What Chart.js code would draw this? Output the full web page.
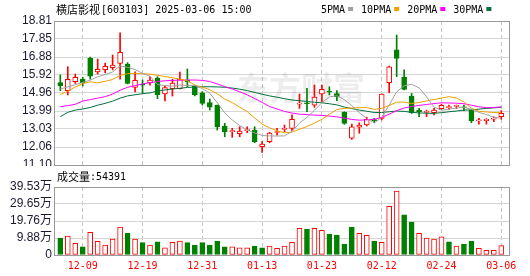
<!DOCTYPE html>
<html>
<head>
<meta charset="utf-8">
<script src="https://cdn.jsdelivr.net/npm/chart.js@4.4.1/dist/chart.umd.min.js"></script>
<style>
    html, body { margin: 0; padding: 0; background: #fff; }
    #wrap { position: relative; width: 530px; height: 276px; overflow: hidden; }
    #priceBox { position: absolute; left: 0; top: 0; width: 530px; height: 166px; }
    #volBox { position: absolute; left: 0; top: 166px; width: 530px; height: 110px; }
</style>
</head>
<body>
<div id="wrap">
    <div id="priceBox"><canvas id="priceCanvas"></canvas></div>
    <div id="volBox"><canvas id="volCanvas"></canvas></div>
</div>
<script>
const stockName = "横店影视";
const stockCode = "603103";
const quoteTime = "15:00";

const dates = [
    "2024-12-04", "2024-12-05", "2024-12-06", "2024-12-09", "2024-12-10", "2024-12-11", "2024-12-12", "2024-12-13",
    "2024-12-16", "2024-12-17", "2024-12-18", "2024-12-19", "2024-12-20", "2024-12-23", "2024-12-24", "2024-12-25",
    "2024-12-26", "2024-12-27", "2024-12-30", "2024-12-31", "2025-01-02", "2025-01-03", "2025-01-06", "2025-01-07",
    "2025-01-08", "2025-01-09", "2025-01-10", "2025-01-13", "2025-01-14", "2025-01-15", "2025-01-16", "2025-01-17",
    "2025-01-20", "2025-01-21", "2025-01-22", "2025-01-23", "2025-01-24", "2025-01-27", "2025-02-05", "2025-02-06",
    "2025-02-07", "2025-02-10", "2025-02-11", "2025-02-12", "2025-02-13", "2025-02-14", "2025-02-17", "2025-02-18",
    "2025-02-19", "2025-02-20", "2025-02-21", "2025-02-24", "2025-02-25", "2025-02-26", "2025-02-27", "2025-02-28",
    "2025-03-03", "2025-03-04", "2025-03-05", "2025-03-06",
];

const opens = [
    15.51, 15.08, 15.56, 15.69, 16.81, 16.08, 16.20, 16.31, 16.54, 16.51,
    15.26, 15.39, 15.51, 15.76, 14.90, 15.19, 15.19, 15.65, 15.33, 14.97,
    14.44, 14.31, 13.19, 12.89, 12.78, 12.93, 12.97, 12.08, 12.35, 12.84,
    13.01, 13.06, 14.36, 14.41, 14.31, 14.90, 15.03, 14.93, 13.92, 12.53,
    13.12, 13.24, 13.50, 13.60, 15.51, 17.26, 15.80, 14.79, 14.04, 13.92,
    13.90, 14.11, 14.17, 14.24, 14.19, 14.04, 13.46, 13.47, 13.56, 13.69,
];
const highs = [
    15.92, 16.36, 15.97, 15.80, 16.88, 16.77, 16.56, 16.99, 18.18, 16.58,
    16.09, 15.65, 15.83, 15.83, 15.35, 15.69, 16.08, 16.24, 15.36, 15.03,
    14.63, 14.31, 13.33, 13.06, 13.15, 13.15, 13.15, 12.35, 12.85, 13.06,
    13.24, 13.78, 14.90, 15.21, 15.38, 15.38, 15.29, 15.08, 13.95, 13.29,
    13.36, 13.66, 13.60, 14.90, 16.40, 18.06, 16.19, 14.93, 14.13, 14.04,
    14.13, 14.36, 14.31, 14.31, 14.31, 14.08, 13.60, 13.58, 13.68, 14.01,
];
const lows = [
    15.08, 14.85, 15.47, 15.33, 15.70, 15.97, 16.04, 16.19, 15.70, 15.44,
    15.01, 14.97, 15.38, 14.65, 14.53, 14.79, 15.17, 15.29, 14.80, 14.32,
    14.04, 12.97, 12.61, 12.58, 12.61, 12.83, 12.29, 11.78, 12.29, 12.70,
    12.88, 12.94, 14.13, 13.95, 14.19, 14.49, 14.85, 14.54, 13.28, 12.47,
    12.80, 13.19, 13.36, 13.51, 14.97, 15.83, 15.12, 13.86, 13.69, 13.69,
    13.78, 14.08, 14.08, 14.13, 14.01, 13.36, 13.29, 13.29, 13.42, 13.55,
];
const closes = [
    15.35, 15.69, 15.80, 15.51, 15.86, 16.22, 16.38, 16.45, 17.13, 15.47,
    15.63, 15.37, 15.65, 14.86, 15.24, 15.49, 15.70, 15.55, 14.85, 14.40,
    14.19, 13.15, 12.88, 12.90, 12.92, 13.00, 12.35, 12.22, 12.81, 12.88,
    13.06, 13.55, 14.40, 14.38, 14.74, 15.15, 15.01, 14.75, 13.33, 13.15,
    13.24, 13.55, 13.48, 14.90, 16.36, 16.81, 15.15, 13.90, 13.95, 13.96,
    14.04, 14.29, 14.22, 14.26, 14.16, 13.47, 13.51, 13.56, 13.60, 13.86,
];

const ma5 = [
    15.17, 15.28, 15.40, 15.52, 15.64, 15.82, 15.95, 16.08, 16.41, 16.33,
    16.21, 16.01, 15.85, 15.40, 15.35, 15.32, 15.38, 15.36, 15.36, 15.19,
    14.94, 14.43, 13.89, 13.51, 13.21, 12.98, 12.82, 12.68, 12.66, 12.65,
    12.66, 12.90, 13.34, 13.65, 14.03, 14.44, 14.74, 14.81, 14.60, 14.28,
    13.90, 13.60, 13.35, 13.66, 14.31, 15.02, 15.34, 15.42, 15.23, 14.75,
    14.20, 14.03, 14.09, 14.15, 14.19, 14.08, 13.92, 13.80, 13.66, 13.60,
];
const ma10 = [
    14.88, 15.05, 15.28, 15.45, 15.55, 15.50, 15.58, 15.68, 15.90, 15.99,
    16.01, 15.98, 15.97, 15.90, 15.84, 15.77, 15.70, 15.61, 15.38, 15.27,
    15.13, 14.91, 14.63, 14.44, 14.20, 13.96, 13.62, 13.29, 13.09, 12.93,
    12.82, 12.86, 13.01, 13.16, 13.34, 13.55, 13.82, 14.07, 14.13, 14.15,
    14.17, 14.17, 14.08, 14.13, 14.29, 14.46, 14.47, 14.39, 14.45, 14.53,
    14.61, 14.68, 14.76, 14.69, 14.47, 14.14, 13.98, 13.94, 13.91, 13.90,
];
const ma20 = [
    14.22, 14.28, 14.35, 14.52, 14.60, 14.68, 14.76, 14.90, 15.10, 15.26,
    15.35, 15.44, 15.51, 15.57, 15.61, 15.63, 15.64, 15.65, 15.65, 15.63,
    15.57, 15.44, 15.30, 15.17, 15.02, 14.86, 14.66, 14.45, 14.23, 14.10,
    13.97, 13.88, 13.82, 13.80, 13.77, 13.76, 13.72, 13.68, 13.61, 13.54,
    13.50, 13.52, 13.55, 13.64, 13.82, 14.01, 14.15, 14.23, 14.29, 14.34,
    14.39, 14.43, 14.42, 14.41, 14.38, 14.30, 14.22, 14.17, 14.18, 14.21,
];
const ma30 = [
    13.69, 13.92, 14.04, 14.10, 14.18, 14.30, 14.40, 14.52, 14.68, 14.80,
    14.86, 14.92, 14.96, 15.06, 15.12, 15.17, 15.21, 15.25, 15.28, 15.29,
    15.29, 15.28, 15.26, 15.22, 15.16, 15.08, 14.99, 14.89, 14.80, 14.73,
    14.65, 14.58, 14.54, 14.50, 14.46, 14.43, 14.38, 14.32, 14.20, 14.12,
    14.04, 13.98, 13.91, 13.91, 13.95, 13.99, 13.97, 13.92, 13.89, 13.87,
    13.87, 13.90, 13.95, 13.99, 14.04, 14.05, 14.09, 14.13, 14.16, 14.19,
];

// volume in 万手
const volumes = [
    9.88, 11.0, 6.8, 4.8, 13.2, 7.9, 5.8, 9.3, 16.3, 12.8,
    9.3, 7.2, 5.8, 7.6, 4.1, 7.4, 8.1, 7.2, 5.8, 7.2,
    5.8, 8.1, 4.7, 4.7, 4.1, 4.1, 5.2, 4.1, 5.2, 3.9,
    5.2, 7.4, 15.5, 15.1, 15.5, 14.3, 12.2, 11.6, 6.4, 16.3,
    12.6, 11.4, 8.1, 7.4, 28.3, 37.2, 23.3, 19.2, 12.6, 9.9,
    9.3, 10.5, 7.6, 5.2, 6.4, 8.1, 3.9, 2.7, 2.7, 5.4391,
];

const tickDates = ["2024-12-09", "2024-12-19", "2024-12-31", "2025-01-13", "2025-01-23", "2025-02-12", "2025-02-24", "2025-03-06"];
const priceTicks = [11.10, 12.06, 13.03, 13.99, 14.96, 15.92, 16.88, 17.85, 18.81];
const volTicks = [0, 9.88, 19.76, 29.65, 39.53];

const maNames = ["5PMA", "10PMA", "20PMA", "30PMA"];
const maSeries = [ma5, ma10, ma20, ma30];
const maColors = ["#a0a0a0", "#f0a000", "#ff00ff", "#00703c"];

const RED = "#ff0000";
const GREEN = "#008000";
const MONO = "'DejaVu Sans Mono', monospace";
const CJK = "'Noto Sans CJK SC', sans-serif";
const LABEL_FONT = "'Liberation Sans', 'Noto Sans CJK SC', sans-serif";
const X_MIN = -0.71;
const X_MAX = 60.03;

Chart.defaults.font.family = LABEL_FONT;

const candleUp = closes.map((c, i) => c >= opens[i]);
const volUp = closes.map((c, i) => c >= (i === 0 ? opens[0] : closes[i - 1]));
const tickIndex = tickDates.map((d) => dates.indexOf(d));

function zeroPad(s) {
    s.paddingLeft = s.paddingRight = s.paddingTop = s.paddingBottom = 0;
}

function xAxis(showLabels) {
    return {
        type: "linear",
        min: X_MIN,
        max: X_MAX,
        offset: false,
        afterBuildTicks: (s) => {
            s.ticks = tickIndex.map((v) => ({ value: v }));
        },
        afterFit: (s) => {
            zeroPad(s);
            s.height = showLabels ? 21 : 0;
        },
        ticks: {
            display: showLabels,
            autoSkip: false,
            maxRotation: 0,
            padding: 5,
            color: RED,
            font: { family: MONO, size: 10 },
            callback: (v) => (dates[v] || "").slice(5),
        },
        grid: { offset: false, drawTicks: false, color: "#c4c4c4" },
        border: { display: false, dash: [4, 3] },
    };
}

function yAxis(min, max, values, fmt) {
    return {
        type: "linear",
        min,
        max,
        afterBuildTicks: (s) => {
            s.ticks = values.map((v) => ({ value: v }));
        },
        afterFit: (s) => {
            zeroPad(s);
            s.width = 55;
        },
        ticks: { padding: 3, autoSkip: false, color: "#1a1a2e", font: { size: 12 }, callback: fmt },
        grid: { drawTicks: false, color: "#d6d6d6" },
        border: { display: false },
    };
}

function drawBox(chart) {
    const { ctx, chartArea: a } = chart;
    ctx.save();
    ctx.strokeStyle = "#999";
    ctx.lineWidth = 1;
    ctx.strokeRect(a.left - 0.5, a.top + 0.5, a.right - a.left + 1, a.bottom - a.top);
    ctx.restore();
}

const priceDecor = {
    id: "priceDecor",
    beforeDatasetsDraw(chart) {
        const { ctx, chartArea: a } = chart;
        ctx.save();
        ctx.font = "bold 32px " + CJK;
        ctx.fillStyle = "rgba(0, 0, 0, 0.07)";
        ctx.textAlign = "center";
        ctx.textBaseline = "middle";
        ctx.fillText("东方财富", a.left + 246, a.top + 67);
        ctx.restore();
    },
    afterDraw(chart) {
        drawBox(chart);
        const ctx = chart.ctx;
        ctx.save();
        ctx.textBaseline = "middle";
        ctx.fillStyle = "#000";
        ctx.font = "11px " + CJK;
        ctx.fillText(stockName, 56, 10);
        const x0 = 56 + ctx.measureText(stockName).width + 1;
        ctx.font = "10px " + MONO;
        ctx.fillText(`[${stockCode}] ${dates[dates.length - 1]} ${quoteTime}`, x0, 10);

        let x = 321;
        maNames.forEach((name, k) => {
            ctx.fillStyle = "#000";
            ctx.fillText(name, x, 10);
            x += ctx.measureText(name).width + 3;
            ctx.fillStyle = maColors[k];
            ctx.fillRect(x, 7, 5, 4);
            x += 5 + 8;
        });
        ctx.restore();
    },
};

const volDecor = {
    id: "volDecor",
    afterDraw(chart) {
        drawBox(chart);
        const ctx = chart.ctx;
        ctx.save();
        ctx.textBaseline = "middle";
        ctx.fillStyle = "#000";
        ctx.font = "11px " + CJK;
        ctx.fillText("成交量", 57, 11);
        const x0 = 57 + ctx.measureText("成交量").width;
        ctx.font = "10px " + MONO;
        ctx.fillText(":" + Math.round(volumes[volumes.length - 1] * 10000), x0, 11);
        ctx.restore();
    },
};

const lineSets = maSeries.map((series, k) => ({
    type: "line",
    label: maNames[k],
    data: series.map((v, i) => ({ x: i, y: v })),
    borderColor: maColors[k],
    borderWidth: 1,
    pointRadius: 0,
    tension: 0,
    order: 0,
}));

const bodySet = {
    type: "bar",
    label: "body",
    data: opens.map((o, i) => ({ x: i, y: [o, closes[i]] })),
    backgroundColor: candleUp.map((u) => (u ? "#ffffff" : GREEN)),
    borderColor: candleUp.map((u) => (u ? RED : GREEN)),
    borderWidth: 1,
    borderSkipped: false,
    barThickness: 5,
    minBarLength: 1,
    grouped: false,
    order: 1,
};

const wickSet = {
    type: "bar",
    label: "wick",
    data: lows.map((l, i) => ({ x: i, y: [l, highs[i]] })),
    backgroundColor: candleUp.map((u) => (u ? RED : GREEN)),
    borderWidth: 0,
    barThickness: 1,
    grouped: false,
    order: 2,
};

new Chart(document.getElementById("priceCanvas"), {
    type: "bar",
    data: { datasets: [...lineSets, bodySet, wickSet] },
    options: {
        responsive: true,
        maintainAspectRatio: false,
        animation: false,
        layout: { padding: { top: 21, right: 21, bottom: 1, left: 0 } },
        plugins: { legend: { display: false }, tooltip: { enabled: false } },
        scales: {
            x: xAxis(false),
            y: yAxis(11.10, 18.81, priceTicks, (v) => v.toFixed(2)),
        },
    },
    plugins: [priceDecor],
});

new Chart(document.getElementById("volCanvas"), {
    type: "bar",
    data: {
        datasets: [
            {
                label: "成交量",
                data: volumes.map((v, i) => ({ x: i, y: v })),
                backgroundColor: volUp.map((u) => (u ? "#ffffff" : GREEN)),
                borderColor: volUp.map((u) => (u ? RED : GREEN)),
                borderWidth: 1,
                borderSkipped: false,
                barThickness: 5,
                grouped: false,
            },
        ],
    },
    options: {
        responsive: true,
        maintainAspectRatio: false,
        animation: false,
        layout: { padding: { top: 21, right: 21, bottom: 0, left: 0 } },
        plugins: { legend: { display: false }, tooltip: { enabled: false } },
        scales: {
            x: xAxis(true),
            y: yAxis(0, 39.53, volTicks, (v) => (v === 0 ? "0" : v.toFixed(2) + "万")),
        },
    },
    plugins: [volDecor],
});
</script>
</body>
</html>
